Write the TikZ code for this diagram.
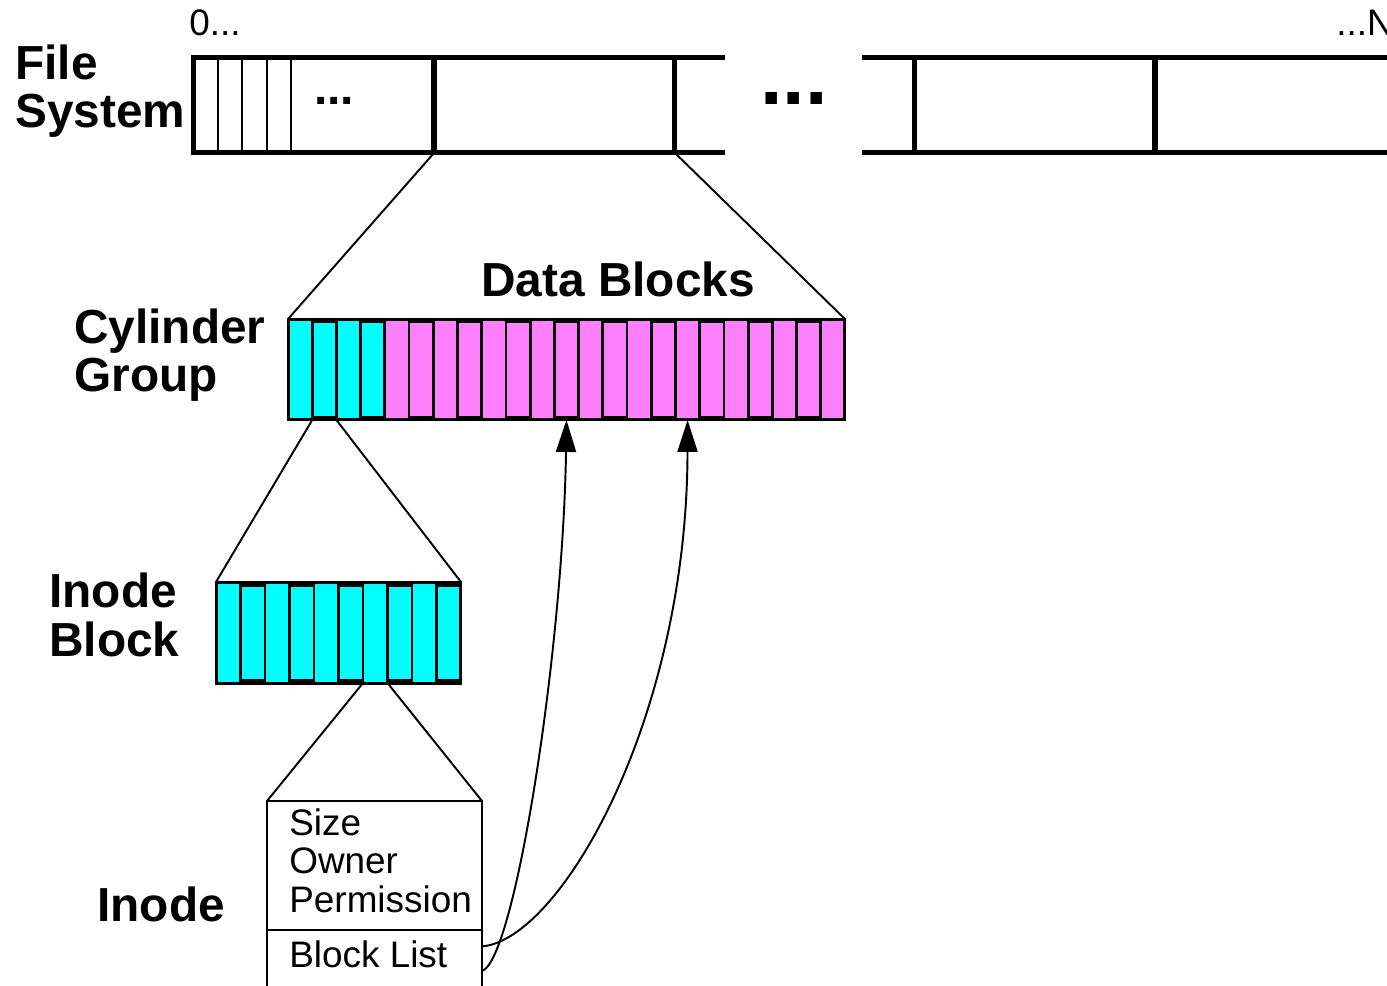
\documentclass[tikz,border=0pt]{standalone}
\usepackage{fontspec}
\setmainfont{Liberation Sans}
\usetikzlibrary{arrows.meta,calc}

\definecolor{cellcyan}{RGB}{0,255,255}
\definecolor{cellpink}{RGB}{255,128,255}
\definecolor{cellmag}{RGB}{255,0,255}

\begin{document}
\begin{tikzpicture}[
    x=0.02cm, y=-0.02cm,
    fsbox/.style={rectangle, draw, line width=2.85pt, inner sep=0pt, outer sep=0pt,
        minimum width=4.82cm, minimum height=1.92cm},
    frame/.style={rectangle, draw, line width=1.7pt, inner sep=0pt, outer sep=0pt},
    fullslot/.style={rectangle, line width=1pt, inner sep=0pt, outer sep=0pt},
    slot/.style={rectangle, draw=black, line width=1.6pt, inner sep=0pt, outer sep=0pt,
        minimum height=1.9cm},
    inodebox/.style={rectangle, draw, line width=1.1pt, inner sep=0pt, outer sep=0pt,
        minimum width=4.3cm},
    zoomline/.style={line width=1.1pt},
    ptr/.style={-{Triangle[width=11.4pt,length=18.2pt]}, line width=1.1pt},
    title/.style={font=\fontsize{27.2pt}{27.5pt}\selectfont\bfseries, align=left, inner sep=0pt, anchor=base west},
    txt/.style={font=\fontsize{21pt}{21.9pt}\selectfont, align=left, inner sep=0pt, anchor=base west}
]
    \useasboundingbox (0,0) rectangle (1387,986);
    \clip (0,0) rectangle (1387,986);

    % File system
    \node[title] (fslabel) at (15,128) {File\\System};
    \node[txt] (first) at (189,36) {0...};
    \node[txt] (last) at (1336,36) {...N};
    \node[fsbox] (fs1) at (313.5,105) {};
    \node[fsbox] (fs2) at (554.5,105) {};
    \node[fsbox] (fs3) at (1034.5,105) {};
    \node[fsbox] (fs4) at (1275.5,105) {};
    \draw[line width=2.85pt] (fs2.north east) -- ++(50,0);
    \draw[line width=2.85pt] (fs2.south east) -- ++(50,0);
    \draw[line width=2.85pt] (fs3.north west) -- ++(-52,0);
    \draw[line width=2.85pt] (fs3.south west) -- ++(-52,0);
    \foreach \x in {218,242,267,291}
        \draw[line width=1.1pt] (\x,57) -- (\x,153);
    \node[title] (fsdots) at (314,105) {...};
    \node[inner sep=0pt, anchor=base west, font=\fontsize{46pt}{46pt}\selectfont\bfseries] (gapdots) at (760,105) {...};

    % Cylinder group
    \node[title] (cglabel) at (74,392) {Cylinder\\Group};
    \node[title] (dblabel) at (481,297) {Data Blocks};
    \foreach \i in {0,2,...,22} {
        \pgfmathsetmacro{\cx}{288+(\i+0.5)*24.217}
        \ifnum\i<4 \def\cfill{cellcyan}\else\def\cfill{cellpink}\fi
        \node[fullslot, fill=\cfill, draw=\cfill, minimum width=0.4843cm, minimum height=1.96cm] (cg\i) at (\cx,369.5) {};
    }
    \foreach \i in {4,6,...,22}
        \draw[cellmag, line width=1pt] (cg\i.north west) rectangle (cg\i.south east);
    \foreach \i in {1,3,...,21} {
        \pgfmathsetmacro{\cx}{288+(\i+0.5)*24.217}
        \ifnum\i<4 \def\cfill{cellcyan}\else\def\cfill{cellpink}\fi
        \node[slot, fill=\cfill, minimum width=0.4843cm] (cg\i) at (\cx,369.5) {};
    }
    \node[frame, minimum width=11.14cm, minimum height=2.02cm] (cg) at (566.5,369.5) {};

    % Inode block
    \node[title] (iblabel) at (49,656) {Inode\\Block};
    \foreach \i in {0,2,...,8}
        \node[fullslot, fill=cellcyan, minimum width=0.49cm, minimum height=2cm] (ib\i) at ({216+(\i+0.5)*24.5},633) {};
    \foreach \i in {1,3,...,9}
        \node[slot, fill=cellcyan, minimum width=0.49cm] (ib\i) at ({216+(\i+0.5)*24.5},633) {};
    \node[frame, minimum width=4.9cm, minimum height=2.04cm] (ib) at (338.5,633) {};

    % Inode
    \node[title] (inlabel) at (97,921) {Inode};
    \node[inodebox, minimum height=2.58cm] (inode) at (374.5,865.5) {};
    \node[inodebox, minimum height=1.64cm] (blist) at (374.5,971) {};
    \node[txt] (attrs) at (289,912) {Size\\Owner\\Permission};
    \node[txt] (blocks) at (289,967) {Block List};

    % Zoom lines
    \draw[zoomline] (fs2.south west) -- (cg.north west);
    \draw[zoomline] (fs2.south east) -- (cg.north east);
    \draw[zoomline] (cg1.south west |- cg.south) -- (ib.north west);
    \draw[zoomline] (cg1.south east |- cg.south) -- (ib.north east);
    \draw[zoomline] (ib6.south west) -- (inode.north west);
    \draw[zoomline] (ib6.south east) -- (inode.north east);

    % Block pointers
    \draw[ptr] (blist.east) .. controls (515,960) and (563,650) .. (cg11.south |- cg.south);
    \draw[ptr] ($(blist.north east)!0.2!(blist.south east)$) .. controls (560,940) and (687,720) .. (cg16.south |- cg.south);
\end{tikzpicture}
\end{document}
